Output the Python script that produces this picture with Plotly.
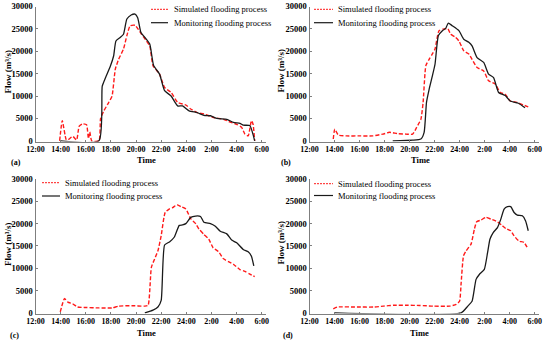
import plotly.graph_objects as go

# ---------------- data (time in hours from 12:00; values >24 = next day) ----------------
series_names = ["Simulated flooding process", "Monitoring flooding process"]
panel_labels = ["(a)", "(b)", "(c)", "(d)"]
tick_hours = [12, 14, 16, 18, 20, 22, 24, 26, 28, 30]
tick_text = ["12:00", "14:00", "16:00", "18:00", "20:00", "22:00", "24:00", "2:00", "4:00", "6:00"]
flow_ticks = [0, 5000, 10000, 15000, 20000, 25000, 30000]
flow_tick_text = ["0", "5000", "10000", "15000", "20000", "25000", "30000"]

a_sim_t = [13.92, 14.13, 14.44, 14.57, 14.96, 15.27, 15.48, 15.74, 16.06, 16.21, 16.32, 16.47, 17.05, 17.18,
           17.44, 17.83, 18.09, 18.35, 18.61, 19.00, 19.27, 19.53, 19.92, 20.18, 20.44, 20.83, 21.09, 21.35,
           21.87, 22.27, 22.79, 23.31, 23.96, 24.35, 24.87, 25.40, 26.18, 26.96, 27.48, 28.00, 28.40, 28.66,
           28.92, 29.18, 29.31, 29.44]
a_sim_q = [0, 4500, 300, 200, 1000, 200, 3300, 3800, 3600, 500, 2000, 0, 0, 5000,
           6700, 8600, 10000, 16000, 18200, 20500, 23500, 25700, 25800, 24900, 23800, 22300, 21200, 16800,
           14900, 11900, 10800, 8600, 8000, 7100, 6300, 6000, 5200, 4800, 4200, 3700, 3000, 1500,
           1100, 4500, 3700, 0]
a_mon_t = [14.0, 17.05, 17.31, 17.57, 17.96, 18.22, 18.40, 18.74, 19.00, 19.27, 19.61, 19.92, 20.13, 20.39,
           20.70, 21.09, 21.40, 21.87, 22.27, 22.79, 23.31, 23.70, 24.22, 24.87, 25.40, 25.92, 26.44, 27.22,
           27.75, 28.27, 28.53, 29.05, 29.44]
a_mon_q = [0, 0, 12200, 14100, 16700, 19000, 22300, 23100, 23800, 27200, 28100, 28300, 27500, 24200,
           23100, 21600, 16800, 14900, 11200, 10000, 7800, 7800, 6700, 6300, 5700, 5600, 5000, 4800,
           4100, 3900, 3500, 3400, 0]

b_sim_t = [13.9, 14.02, 14.30, 14.96, 16.01, 17.07, 17.86, 18.39, 19.05, 19.71, 20.24, 20.56, 20.90, 21.08,
           21.30, 21.56, 21.82, 22.03, 22.35, 22.75, 23.06, 23.28, 23.67, 23.94, 24.33, 24.73, 24.99, 25.39,
           25.92, 26.31, 26.84, 27.24, 27.64, 28.04, 28.56, 29.09, 29.48]
b_sim_q = [400, 2600, 1300, 1100, 1100, 1100, 1500, 1900, 1600, 1500, 1500, 3000, 4800, 8600,
           16800, 18200, 19400, 20500, 24600, 25000, 25000, 23800, 23100, 22300, 20100, 19400, 18200, 16400,
           15600, 13400, 12700, 10800, 10400, 8900, 8600, 8000, 7600]
b_mon_t = [18.65, 20.24, 20.90, 21.16, 21.35, 21.56, 21.82, 22.03, 22.30, 22.62, 22.88, 23.09, 23.41, 23.94,
           24.33, 24.73, 24.99, 25.39, 25.92, 26.31, 26.71, 27.11, 27.64, 28.04, 28.69, 29.22]
b_mon_q = [0, 150, 400, 1900, 8600, 11500, 14500, 17100, 23500, 24600, 25100, 26300, 25700, 24600,
           22700, 22000, 21200, 18600, 17500, 14900, 14100, 10800, 10100, 8900, 8400, 7400]

c_sim_t = [13.97, 14.31, 14.57, 14.96, 15.35, 16.00, 17.05, 18.09, 18.61, 19.66, 20.70, 20.96, 21.22, 21.48,
           21.74, 22.00, 22.32, 22.66, 22.92, 23.26, 23.57, 23.96, 24.35, 24.74, 25.00, 25.39, 25.79, 26.13,
           26.57, 26.96, 27.35, 27.74, 28.27, 28.66, 29.05, 29.44]
c_sim_q = [200, 3200, 2400, 2000, 1300, 1200, 1100, 1100, 1500, 1600, 1500, 1700, 10200, 12100,
           13900, 17300, 22500, 23300, 23600, 24200, 23800, 23300, 21100, 20000, 18800, 17600, 16500, 14600,
           13700, 12100, 11500, 10900, 9700, 9300, 8700, 8100]
c_mon_t = [20.70, 21.35, 21.74, 22.00, 22.27, 22.66, 23.05, 23.44, 23.70, 23.96, 24.35, 24.74, 25.13, 25.40,
           25.92, 26.31, 26.70, 27.22, 27.61, 28.01, 28.53, 28.92, 29.18, 29.37]
c_mon_q = [0, 600, 1300, 2800, 15200, 15900, 17000, 19600, 19700, 20000, 21400, 21700, 21600, 20300,
           20000, 19400, 18300, 17700, 16300, 15700, 14200, 13700, 12700, 10500]

d_sim_t = [13.90, 14.22, 15.80, 17.12, 17.91, 18.71, 19.76, 20.82, 21.88, 23.20, 23.72, 23.99, 24.12, 24.31,
           24.52, 24.91, 25.18, 25.36, 25.70, 26.10, 26.50, 27.02, 27.42, 27.68, 28.08, 28.34, 28.73, 29.13,
           29.48]
d_sim_q = [900, 1300, 1300, 1300, 1500, 1700, 1700, 1650, 1500, 1500, 1900, 2600, 6800, 12800,
           13900, 15400, 18800, 20400, 20800, 21400, 21000, 20400, 19500, 18900, 18400, 17300, 16100, 15800,
           14300]
d_mon_t = [14.0, 24.12, 24.65, 24.99, 25.31, 25.57, 25.97, 26.23, 26.42, 26.68, 27.02, 27.29, 27.55, 27.82,
           28.08, 28.35, 28.61, 29.01, 29.27, 29.48]
d_mon_q = [0, 0, 1500, 2600, 7500, 8600, 9750, 13500, 16500, 18000, 19100, 21000, 23250, 23800,
           23800, 22500, 21900, 21750, 20600, 18400]

panels = [
    (a_sim_t, a_sim_q, a_mon_t, a_mon_q),
    (b_sim_t, b_sim_q, b_mon_t, b_mon_q),
    (c_sim_t, c_sim_q, c_mon_t, c_mon_q),
    (d_sim_t, d_sim_q, d_mon_t, d_mon_q),
]

# ---------------- styling / layout geometry ----------------
W, H = 550, 343
SERIF = "Liberation Serif"
RED, BLACK, AX_GRAY = "#ff1a1a", "#1a1a1a", "#7f7f7f"
SIM_LINE = dict(color=RED, width=1.4, dash="4px,2px")
MON_LINE = dict(color=BLACK, width=1.3)
x_domains = [[35.5 / W, 265.5 / W], [309.5 / W, 538.5 / W]]
y_domains = [[1 - 141.5 / H, 1 - 6.5 / H], [1 - 313.5 / H, 1 - 179 / H]]

# legend-key placement in pixels: (key x0, key x1, text x, row-1 y, row-2 y)
legend_px = [(151, 168, 172, 9.3, 22.7), (314, 333, 336, 9.3, 22.7),
             (42, 60, 63, 182.7, 196), (314, 333, 336, 183.7, 195.5)]
time_pos = [(146, 160), (420, 160), (146, 333.3), (419, 333.3)]
flow_pos = [(7.5, 72), (280.5, 71), (7.5, 244.5), (280.5, 243)]
lab_pos = [(16, 162.7), (286, 162.7), (14, 335.3), (287.5, 335.3)]

fig = go.Figure()
layout = dict(
    width=W, height=H, showlegend=False,
    margin=dict(l=0, r=0, t=0, b=0, autoexpand=False),
    paper_bgcolor="white", plot_bgcolor="white",
    font=dict(family=SERIF, color="black", size=8),
    annotations=[], shapes=[],
)

def px_x(v):
    return v / W

def px_y(v):
    return 1 - v / H

for i, (st, sq, mt, mq) in enumerate(panels):
    row, col = divmod(i, 2)
    n = i + 1
    xa = "x" if n == 1 else f"x{n}"
    ya = "y" if n == 1 else f"y{n}"
    fig.add_trace(go.Scatter(
        x=st, y=sq, mode="lines", name=series_names[0], xaxis=xa, yaxis=ya,
        line=dict(**SIM_LINE, shape="spline", smoothing=0.5),
    ))
    fig.add_trace(go.Scatter(
        x=mt, y=mq, mode="lines", name=series_names[1], xaxis=xa, yaxis=ya,
        line=dict(**MON_LINE, shape="spline", smoothing=0.5),
    ))
    xkey = "xaxis" if n == 1 else f"xaxis{n}"
    ykey = "yaxis" if n == 1 else f"yaxis{n}"
    common = dict(
        ticks="inside", ticklen=2, tickcolor=AX_GRAY, tickwidth=1,
        showline=True, linecolor=AX_GRAY, linewidth=1, showgrid=False, zeroline=False,
        fixedrange=True,
    )
    layout[xkey] = dict(domain=x_domains[col], anchor=ya, range=[12, 30.3],
                        tickmode="array", tickvals=tick_hours, ticktext=tick_text,
                        tickfont=dict(family=SERIF, size=8, color="black", weight="bold"), **common)
    layout[ykey] = dict(domain=y_domains[row], anchor=xa, range=[-150, 30000],
                        tickmode="array", tickvals=flow_ticks, ticktext=flow_tick_text,
                        tickfont=dict(family=SERIF, size=8.5, color="black", weight="bold"), **common)

    # legend (keys + labels)
    k0, k1, tx0, r1, r2 = legend_px[i]
    for name, style, ry in ((series_names[0], SIM_LINE, r1), (series_names[1], MON_LINE, r2)):
        layout["shapes"].append(dict(
            type="line", xref="paper", yref="paper",
            x0=px_x(k0), x1=px_x(k1), y0=px_y(ry), y1=px_y(ry),
            line=dict(color=style["color"], width=1 if style is SIM_LINE else 1.2,
                      dash="2px,1px" if style is SIM_LINE else "solid"),
        ))
        layout["annotations"].append(dict(
            text=name, x=px_x(tx0), y=px_y(ry), xref="paper", yref="paper",
            showarrow=False, xanchor="left", yanchor="middle",
            font=dict(family=SERIF, size=8.5, color="black"),
        ))

    tx, ty = time_pos[i]
    layout["annotations"].append(dict(
        text="Time", x=px_x(tx), y=px_y(ty), xref="paper", yref="paper",
        showarrow=False, xanchor="center", yanchor="middle",
        font=dict(family=SERIF, size=8.5, color="black", weight="bold"),
    ))
    fx, fy = flow_pos[i]
    layout["annotations"].append(dict(
        text="Flow (m³/s)", x=px_x(fx), y=px_y(fy), xref="paper", yref="paper",
        showarrow=False, xanchor="center", yanchor="middle", textangle=-90,
        font=dict(family=SERIF, size=9, color="black", weight="bold"),
    ))
    lx, ly = lab_pos[i]
    layout["annotations"].append(dict(
        text=panel_labels[i], x=px_x(lx), y=px_y(ly), xref="paper", yref="paper",
        showarrow=False, xanchor="center", yanchor="middle",
        font=dict(family=SERIF, size=8, color="black", weight="bold"),
    ))

fig.update_layout(**layout)
fig.write_html("out.html", config={"displayModeBar": False},
               post_script="document.body.style.margin='0';document.body.style.overflow='hidden';")
